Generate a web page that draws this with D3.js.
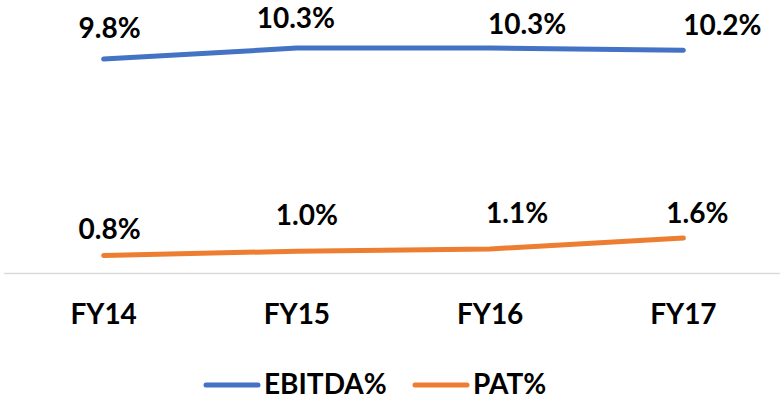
<!DOCTYPE html>
<html>
<head>
<meta charset="utf-8">
<script src="https://cdn.jsdelivr.net/npm/d3@7"></script>
<style>
  html, body { margin: 0; padding: 0; background: #fff; }
  svg { display: block; }
  text { font-family: Lato, "Open Sans", "Liberation Sans", sans-serif; font-weight: bold; fill: #000; }
</style>
</head>
<body>
<svg id="chart" width="780" height="400"></svg>
<script>
const categories = ["FY14", "FY15", "FY16", "FY17"];
const ebitda = [9.8, 10.3, 10.3, 10.2];
const pat = [0.8, 1.0, 1.1, 1.6];
const seriesNames = ["EBITDA%", "PAT%"];
const seriesColors = ["#4472C4", "#ED7D31"];
// label nudges (px) relative to each point, matching the reference's manual label placement
const ebitdaLabelDx = [6, -1, 37, 39];
const ebitdaLabelDy = [-21, -20, -14, -15];
const patLabelDx = [6, 10, 27, 14];
const patLabelDy = [-17, -26, -26, -15];

const svg = d3.select("#chart");
const x = d3.scaleBand().domain(categories).range([7, 780]).padding(0);
const y = d3.scaleLinear().domain([0, 12]).range([273, 11]);
const cx = d => x(d) + x.bandwidth() / 2;

// baseline axis
const xAxis = d3.axisBottom(x).tickSize(0).tickPadding(0);
const gx = svg.append("g").attr("transform", `translate(0,${y(0)})`).call(xAxis);
gx.select(".domain").attr("stroke", "#d9d9d9").attr("stroke-width", 1.5)
  .attr("d", `M4,0.5H780`);
gx.selectAll(".tick text")
  .attr("y", 51).attr("dy", 0)
  .style("font-size", "28px")
  .style("font-family", "Lato, 'Open Sans', sans-serif")
  .style("font-weight", "bold")
  .attr("fill", "#000");

const series = [
  { name: seriesNames[0], values: ebitda, color: seriesColors[0], dx: ebitdaLabelDx, dy: ebitdaLabelDy },
  { name: seriesNames[1], values: pat, color: seriesColors[1], dx: patLabelDx, dy: patLabelDy }
];

const line = d3.line().x((d, i) => cx(categories[i])).y(d => y(d));

series.forEach(s => {
  svg.append("path")
    .attr("d", line(s.values))
    .attr("fill", "none")
    .attr("stroke", s.color)
    .attr("stroke-width", 5)
    .attr("stroke-linecap", "round")
    .attr("stroke-linejoin", "round");

  svg.append("g").selectAll("text")
    .data(s.values)
    .join("text")
    .attr("x", (d, i) => cx(categories[i]) + s.dx[i])
    .attr("y", (d, i) => y(d) + s.dy[i])
    .attr("text-anchor", "middle")
    .style("font-size", "28px")
    .text(d => d.toFixed(1) + "%");
});

// legend
const legendItems = [
  { name: seriesNames[0], color: seriesColors[0], x0: 204 },
  { name: seriesNames[1], color: seriesColors[1], x0: 413 }
];
const lg = svg.append("g");
legendItems.forEach(it => {
  lg.append("line")
    .attr("x1", it.x0 + 2).attr("x2", it.x0 + 54)
    .attr("y1", 385).attr("y2", 385)
    .attr("stroke", it.color).attr("stroke-width", 5)
    .attr("stroke-linecap", "round");
  lg.append("text")
    .attr("x", it.x0 + 60).attr("y", 394)
    .style("font-size", "28px")
    .text(it.name);
});
</script>
</body>
</html>
